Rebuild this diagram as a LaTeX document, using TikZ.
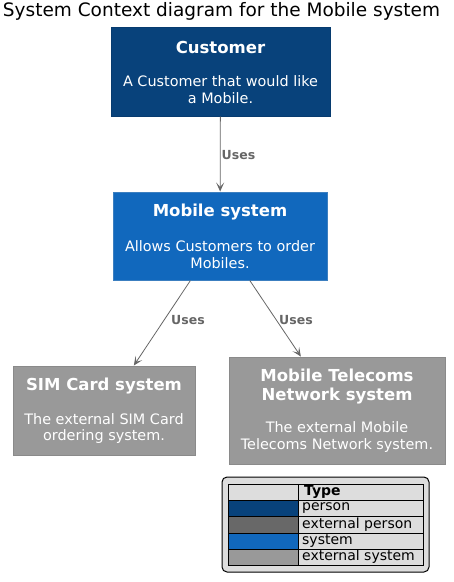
\documentclass[tikz,border=0pt]{standalone}
\usepackage{fontspec}
\setmainfont{DejaVu Sans}
\usetikzlibrary{arrows.meta}
\definecolor{personC}{HTML}{08427B}
\definecolor{personB}{HTML}{073B6F}
\definecolor{sysC}{HTML}{1168BD}
\definecolor{sysB}{HTML}{3C7FC0}
\definecolor{extC}{HTML}{999999}
\definecolor{extB}{HTML}{8A8A8A}
\definecolor{extpC}{HTML}{686868}
\definecolor{relC}{HTML}{666666}
\definecolor{legC}{HTML}{DDDDDD}
\tikzset{
  box/.style={draw, line width=1pt, inner sep=0pt},
  ttl/.style={text=white, font=\fontsize{16.5}{18.5}\selectfont\bfseries, align=center, inner sep=0pt},
  dsc/.style={text=white, font=\fontsize{14.4}{16.5}\selectfont, align=center, inner sep=0pt},
  rel/.style={draw=relC, line width=0.8pt, -{Stealth[length=9pt,width=8pt,inset=4.5pt]}},
  rlab/.style={text=relC, font=\fontsize{12.5}{14}\selectfont\bfseries, inner sep=0pt},
  legtxt/.style={font=\fontsize{14}{16}\selectfont, anchor=west, inner sep=0pt},
}
\begin{document}
\begin{tikzpicture}[x=1pt,y=-1pt]
\useasboundingbox (0,0) rectangle (454,582);
\node[inner sep=0pt, font=\fontsize{18.5}{20}\selectfont] (title) at (221.5,11) {System Context diagram for the Mobile system};

% boxes
\node[box, draw=personB, fill=personC, minimum width=219pt, minimum height=89pt] (cust) at (220.5,71.5) {};
\node[ttl] (custt) at (220.5,47.5) {Customer};
\node[dsc] (custd) at (220.5,89.5) {A Customer that would like\\a Mobile.};

\node[box, draw=sysB, fill=sysC, minimum width=214pt, minimum height=88pt] (mob) at (220,236) {};
\node[ttl] (mobt) at (220,212.5) {Mobile system};
\node[dsc] (mobd) at (220,254.5) {Allows Customers to order\\Mobiles.};

\node[box, draw=extB, fill=extC, minimum width=182pt, minimum height=89pt] (sim) at (104,410.5) {};
\node[ttl] (simt) at (104,386.5) {SIM Card system};
\node[dsc] (simd) at (104,428.5) {The external SIM Card\\ordering system.};

\node[box, draw=extB, fill=extC, minimum width=216pt, minimum height=107pt] (tel) at (337,410.5) {};
\node[ttl] (telt) at (337,386.5) {Mobile Telecoms\\Network system};
\node[dsc] (teld) at (337,437) {The external Mobile\\Telecoms Network system.};

% relations
\draw[rel] (cust) -- (mob);
\draw[rel] (mob) -- (sim);
\draw[rel] (mob) -- (tel);
\node[rlab] (l1) at (238.5,155) {Uses};
\node[rlab] (l2) at (188,320) {Uses};
\node[rlab] (l3) at (296,320) {Uses};

% legend
\draw[fill=legC, line width=1pt, rounded corners=5pt] (222,477) rectangle (429,572);
\draw[fill=legC, line width=0.8pt] (228,484) rectangle (423,565);
\fill[personC] (228,500) rectangle (298,516);
\fill[extpC] (228,516) rectangle (298,533);
\fill[sysC] (228,533) rectangle (298,549);
\fill[extC] (228,549) rectangle (298,565);
\draw[line width=0.8pt] (228,484) rectangle (423,565);
\draw[line width=0.8pt] (298,484) -- (298,565);
\foreach \yy in {500,516,533,549} \draw[line width=0.8pt] (228,\yy) -- (423,\yy);
\node[legtxt, font=\fontsize{14}{16}\selectfont\bfseries] (lh) at (304,492) {Type};
\node[legtxt] (lp) at (302,508) {person};
\node[legtxt] (lep) at (302,524.5) {external person};
\node[legtxt] (ls) at (302,541) {system};
\node[legtxt] (les) at (302,557) {external system};
\end{tikzpicture}
\end{document}
